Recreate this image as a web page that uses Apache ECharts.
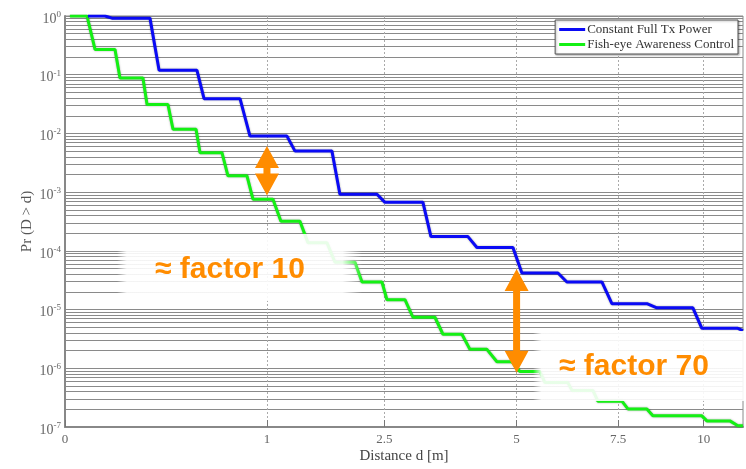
<!DOCTYPE html>
<html><head><meta charset="utf-8">
<script src="https://cdn.jsdelivr.net/npm/echarts@6/dist/echarts.min.js"></script>
<style>html,body{margin:0;padding:0;background:#fff}#c{width:746px;height:469px}</style>
</head><body><div id="c"></div>
<script>
// ---- data ----
const seriesNames = ['Constant Full Tx Power', 'Fish-eye Awareness Control'];
// distance d [m] and Pr(D > d)
const blueD = [0.013, 0.039, 0.054, 0.177, 0.217, 0.427, 0.474, 0.751, 0.839, 1.208, 1.297, 1.747, 1.853, 2.386, 2.510, 3.141, 3.283, 3.980, 4.160, 4.919, 5.118, 5.957, 6.176, 7.067, 7.333, 8.301, 8.589, 9.665, 9.944, 11.10, 11.266];
const blueP = [1, 1, 0.92, 0.92, 0.119, 0.119, 0.039, 0.039, 0.009, 0.009, 0.005, 0.005, 9.2e-4, 9.2e-4, 6.7e-4, 6.7e-4, 1.75e-4, 1.75e-4, 1.14e-4, 1.14e-4, 4.2e-5, 4.2e-5, 2.95e-5, 2.95e-5, 1.26e-5, 1.26e-5, 1.07e-5, 1.07e-5, 4.8e-6, 4.8e-6, 4.4e-6];
const greenD = [0.0006, 0.0119, 0.0221, 0.0613, 0.0741, 0.149, 0.165, 0.260, 0.286, 0.421, 0.447, 0.604, 0.651, 0.812, 0.866, 1.060, 1.143, 1.353, 1.447, 1.682, 1.787, 2.061, 2.162, 2.463, 2.541, 2.833, 2.968, 3.355, 3.502, 3.863, 4.020, 4.364, 4.574, 4.897, 5.074, 5.530, 5.647, 6.201, 6.300, 6.832, 6.962, 7.604, 7.768, 8.301, 8.473, 9.944, 10.101, 10.838, 11.100, 11.266];
const greenP = [1, 1, 0.27, 0.27, 0.088, 0.088, 0.031, 0.031, 0.0118, 0.0118, 0.0047, 0.0047, 0.0019, 0.0019, 7.6e-4, 7.6e-4, 3.2e-4, 3.2e-4, 1.38e-4, 1.38e-4, 6.4e-5, 6.4e-5, 2.95e-5, 2.95e-5, 1.47e-5, 1.47e-5, 7.4e-6, 7.4e-6, 3.8e-6, 3.8e-6, 2.1e-6, 2.1e-6, 1.29e-6, 1.29e-6, 8.8e-7, 8.8e-7, 5.7e-7, 5.7e-7, 4.2e-7, 4.2e-7, 2.75e-7, 2.75e-7, 2.03e-7, 2.03e-7, 1.55e-7, 1.55e-7, 1.27e-7, 1.27e-7, 1.05e-7, 1.05e-7];
const xTickLabels = [0, 1, 2.5, 5, 7.5, 10];
const xMax = 11.27;
const yDecades = [1e-7, 1e-6, 1e-5, 1e-4, 1e-3, 1e-2, 1e-1, 1];
const arrowD = [1, 5];
const arrowTop = [6.1e-3, 4.9e-5];
const arrowBottom = [8.8e-4, 8.4e-7];
const annotationTexts = ['≈ factor 10', '≈ factor 70'];

// ---- build ----
const sq = Math.sqrt; // the reference x axis is drawn on a square-root scale
const minorY = [];
for (let e = -7; e <= 0; e++) for (let k = 1; k <= 9; k++) { const v = k * Math.pow(10, e); if (v <= 1.0000001) minorY.push(+v.toPrecision(3)); }
const blueData = blueD.map((d, i) => [sq(d), blueP[i]]);
const greenData = greenD.map((d, i) => [sq(d), greenP[i]]);
const serif = '"Liberation Serif", "DejaVu Serif", serif';

const chart = echarts.init(document.getElementById('c'));
chart.setOption({
  animation: false,
  backgroundColor: '#fff',
  grid: { left: 65, right: 3, top: 16, bottom: 36, show: true, borderColor: '#8a8a8a', borderWidth: 1 },
  legend: {
    right: 8, top: 20, orient: 'vertical', itemGap: 2, padding: [3, 4, 3, 4],
    itemWidth: 26, itemHeight: 3, icon: 'rect',
    backgroundColor: '#fff', borderColor: '#555', borderWidth: 1,
    shadowColor: 'rgba(0,0,0,0.3)', shadowBlur: 2, shadowOffsetX: 1, shadowOffsetY: 1,
    textStyle: { fontFamily: serif, fontSize: 13, color: '#333', padding: [0, 0, 0, -3] },
    data: seriesNames
  },
  xAxis: {
    type: 'value', min: 0, max: sq(xMax),
    name: 'Distance d [m]', nameLocation: 'middle', nameGap: 22, nameMoveOverlap: false,
    nameTextStyle: { fontFamily: serif, fontSize: 15, color: '#444' },
    axisLine: { lineStyle: { color: '#888', width: 2 } },
    axisTick: { show: true, inside: true, length: 7, customValues: xTickLabels.map(sq), lineStyle: { color: '#777' } },
    axisLabel: {
      customValues: xTickLabels.map(sq), margin: 6,
      fontFamily: serif, fontSize: 13, color: '#666',
      formatter: v => { let best = xTickLabels[0]; xTickLabels.forEach(t => { if (Math.abs(sq(t) - v) < Math.abs(sq(best) - v)) best = t; }); return String(best); }
    },
    splitLine: { show: true, lineStyle: { color: '#aaa', type: [2, 2], width: 1 } }
  },
  yAxis: {
    type: 'log', logBase: 10, min: 1e-7, max: 1,
    name: 'Pr (D > d)', nameLocation: 'middle', nameGap: 30, nameMoveOverlap: false,
    nameTextStyle: { fontFamily: serif, fontSize: 15, color: '#555' },
    axisLine: { show: true, lineStyle: { color: '#888', width: 2 } },
    axisTick: { show: false, customValues: minorY },
    axisLabel: {
      customValues: yDecades, margin: 4, padding: [6, 0, 0, 0],
      formatter: v => '{b|10}{s|' + Math.round(Math.log10(v)) + '}',
      rich: {
        b: { fontFamily: serif, fontSize: 14, color: '#666', lineHeight: 18 },
        s: { fontFamily: serif, fontSize: 9, color: '#666', verticalAlign: 'top' }
      }
    },
    splitLine: { show: true, lineStyle: { color: '#8a8a8a', width: 1 } }
  },
  series: [
    { name: seriesNames[0], type: 'line', data: blueData, symbol: 'none', color: '#0a0af5',
      lineStyle: { width: 3, color: '#0a0af5', shadowColor: 'rgba(0,0,0,0.35)', shadowBlur: 2 }, z: 3 },
    { name: seriesNames[1], type: 'line', data: greenData, symbol: 'none', color: '#14f014',
      lineStyle: { width: 3, color: '#14f014', shadowColor: 'rgba(0,0,0,0.35)', shadowBlur: 2 }, z: 2 }
  ]
});

// ---- annotations (arrows anchored to data through the chart's scales) ----
const orange = '#ff8c00';
const g = [];
function fade(x, y, w, h, soft) {
  const stops = soft === 'both'
    ? [{offset:0,color:'rgba(255,255,255,0)'},{offset:0.04,color:'rgba(255,255,255,0.9)'},{offset:0.92,color:'rgba(255,255,255,0.9)'},{offset:1,color:'rgba(255,255,255,0)'}]
    : [{offset:0,color:'rgba(255,255,255,0)'},{offset:0.04,color:'rgba(255,255,255,0.9)'},{offset:1,color:'rgba(255,255,255,0.9)'}];
  return { type: 'rect', shape: { x, y, width: w, height: h }, z: 50, silent: true,
    style: { fill: { type: 'linear', x: 0, y: 0, x2: 1, y2: 0, colorStops: stops } } };
}
g.push(fade(117, 234, 245, 67, 'both'));
g.push(fade(533, 331, 213, 70, 'left'));
arrowD.forEach((d, i) => {
  const p1 = chart.convertToPixel({ gridIndex: 0 }, [sq(d), arrowTop[i]]);
  const p2 = chart.convertToPixel({ gridIndex: 0 }, [sq(d), arrowBottom[i]]);
  const x = p1[0], y1 = p1[1], y2 = p2[1], hw = 12, hh = 22, sw = 3.5;
  g.push({ type: 'polygon', z: 60, silent: true, style: { fill: orange },
    shape: { points: [[x, y1], [x + hw, y1 + hh], [x + sw, y1 + hh], [x + sw, y2 - hh], [x + hw, y2 - hh], [x, y2], [x - hw, y2 - hh], [x - sw, y2 - hh], [x - sw, y1 + hh], [x - hw, y1 + hh]] } });
});
g.push({ type: 'text', z: 70, silent: true, style: { text: annotationTexts[0], x: 155, y: 270, verticalAlign: 'middle', font: 'bold 30px "Liberation Sans", Arial, sans-serif', fill: orange } });
g.push({ type: 'text', z: 70, silent: true, style: { text: annotationTexts[1], x: 559, y: 367, verticalAlign: 'middle', font: 'bold 30px "Liberation Sans", Arial, sans-serif', fill: orange } });
chart.setOption({ graphic: g });
</script>
</body></html>
